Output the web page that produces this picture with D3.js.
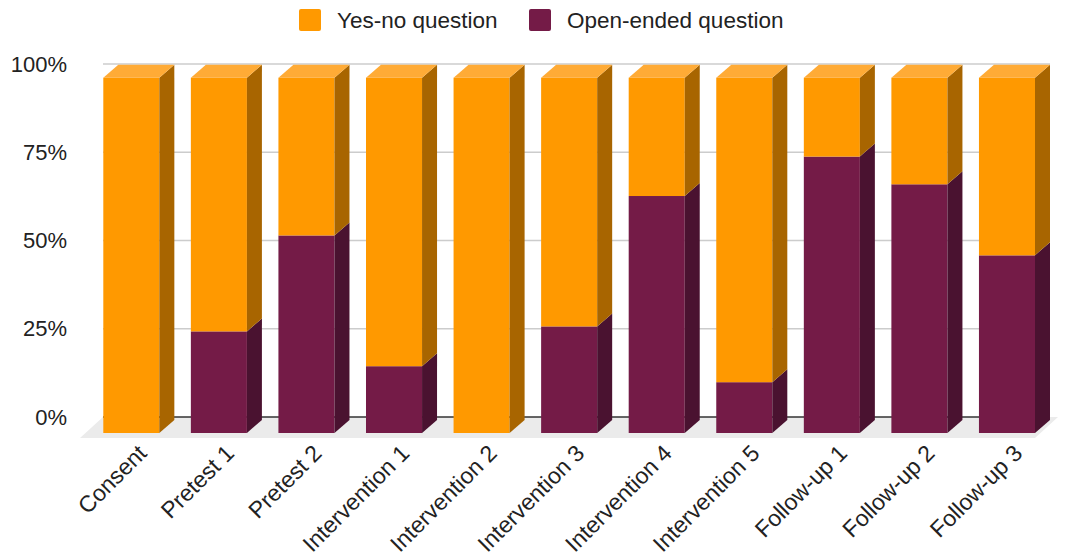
<!DOCTYPE html>
<html>
<head>
<meta charset="utf-8">
<script src="https://cdn.jsdelivr.net/npm/d3@7"></script>
<style>
  html, body { margin: 0; padding: 0; background: #ffffff; }
  svg { display: block; }
  text { font-family: "Liberation Sans", Arial, sans-serif; fill: #222; }
</style>
</head>
<body>
<svg id="chart" width="1070" height="560"></svg>
<script>
const categories = ["Consent", "Pretest 1", "Pretest 2", "Intervention 1", "Intervention 2",
  "Intervention 3", "Intervention 4", "Intervention 5", "Follow-up 1", "Follow-up 2", "Follow-up 3"];
const openEnded = [0, 28.6, 55.6, 18.8, 0, 30, 66.7, 14.3, 77.8, 70, 50];
const yesNo = [100, 71.4, 44.4, 81.2, 100, 70, 33.3, 85.7, 22.2, 30, 50];
const seriesNames = ["Yes-no question", "Open-ended question"];
const tickValues = [0, 25, 50, 75, 100];

const colors = {
  yes: { front: "#ff9900", side: "#a86500", top: "#ffab36" },
  open: { front: "#741b47", side: "#4a1230", top: "#8f3a63" }
};

const svg = d3.select("#chart");
const DX = 15, DY = -13;

const x = d3.scaleBand().domain(categories).range([103.3, 1035]).paddingInner(0.36).paddingOuter(0);
const y = d3.scaleLinear().domain([0, 100]).range([433, 77.7]);      // front face
const yWall = d3.scaleLinear().domain([0, 100]).range([417, 64]);   // back wall

// floor
svg.append("polygon")
  .attr("points", [[103, 417], [1058, 417], [1035, 438], [80, 438]].map(p => p.join(",")).join(" "))
  .attr("fill", "#ebebeb");

// gridlines
svg.append("g").selectAll("line").data(tickValues).join("line")
  .attr("x1", 103).attr("x2", 1050)
  .attr("y1", d => yWall(d)).attr("y2", d => yWall(d))
  .attr("stroke", d => d === 0 ? "#333" : "#cccccc")
  .attr("stroke-width", 1.5);

// y axis labels
const yAxis = d3.axisLeft(yWall).tickValues(tickValues).tickFormat(d => d + "%").tickSize(0).tickPadding(0);
const yg = svg.append("g").attr("transform", "translate(67,0)").call(yAxis);
yg.select(".domain").remove();
yg.selectAll("text").style("font-size", "22px").attr("fill", "#222").attr("font-family", "Liberation Sans, Arial, sans-serif");

// bars
const data = categories.map((c, i) => ({ cat: c, open: openEnded[i], yes: yesNo[i] }));
const bw = x.bandwidth();
const poly = pts => pts.map(p => p.join(",")).join(" ");

const bars = svg.append("g").selectAll("g").data(data).join("g");
bars.each(function(d) {
  const g = d3.select(this);
  const x0 = x(d.cat), x1 = x0 + bw;
  const segs = [
    { lo: 0, hi: d.open, c: colors.open },
    { lo: d.open, hi: d.open + d.yes, c: colors.yes }
  ].filter(s => s.hi - s.lo > 0);
  segs.forEach((s, k) => {
    const yt = y(s.hi), yb = y(s.lo);
    g.append("rect").attr("x", x0).attr("y", yt).attr("width", bw).attr("height", yb - yt).attr("fill", s.c.front);
    g.append("polygon").attr("points", poly([[x1, yt], [x1 + DX, yt + DY], [x1 + DX, yb + DY], [x1, yb]])).attr("fill", s.c.side);
    if (k === segs.length - 1) {
      g.append("polygon").attr("points", poly([[x0, yt], [x0 + DX, yt + DY], [x1 + DX, yt + DY], [x1, yt]])).attr("fill", s.c.top);
    }
  });
});

// x labels
svg.append("g").selectAll("text").data(categories).join("text")
  .attr("transform", d => `translate(${x(d) + bw / 2 + 11},449) rotate(-45)`)
  .attr("text-anchor", "end")
  .attr("dy", "0.35em")
  .style("font-size", "23px")
  .text(d => d);

// legend
const legend = svg.append("g");
const legendX = [299, 529];
const legendColors = [colors.yes.front, colors.open.front];
seriesNames.forEach((name, i) => {
  legend.append("rect").attr("x", legendX[i]).attr("y", 9).attr("width", 22).attr("height", 22).attr("rx", 2).attr("fill", legendColors[i]);
  legend.append("text").attr("x", legendX[i] + 38).attr("y", 20).attr("dy", "0.35em").style("font-size", "22.5px").text(name);
});
</script>
</body>
</html>
